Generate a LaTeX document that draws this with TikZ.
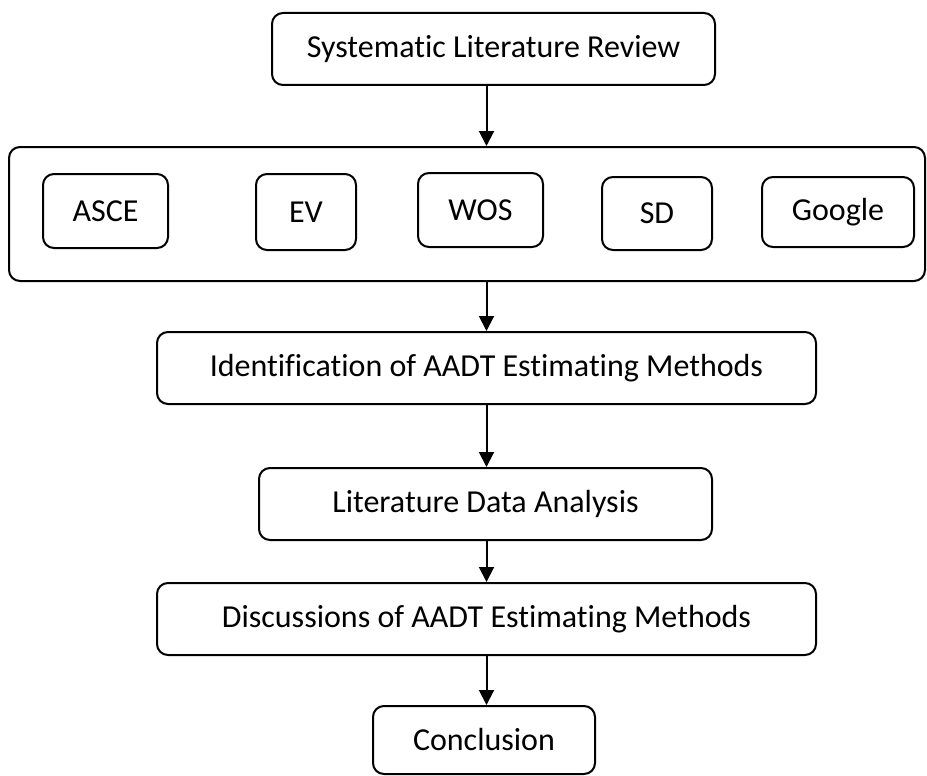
\documentclass[tikz,border=0pt]{standalone}
\usepackage{fontspec}
\setmainfont[Ligatures=NoCommon]{Carlito}
\usetikzlibrary{arrows.meta}

\begin{document}
\begin{tikzpicture}[x=1pt, y=-1pt,
                line width=2pt,
                every node/.style = {draw, rounded corners=11pt, inner sep=0pt,
                    font=\fontsize{32}{38}\selectfont},
                flow/.style = {-{Triangle[length=15pt,width=15pt]}}
            ]
            \useasboundingbox (0,0) rectangle (927,776);
            % top step and database box
            \node[minimum width=443pt, minimum height=72pt] (review) at (493.5,49) {Systematic Literature Review};
            \node[minimum width=916pt, minimum height=134pt] (container) at (467,214) {};
            \node[minimum width=125pt, minimum height=74pt] (asce) at (105.5,211) {ASCE};
            \node[minimum width=100pt, minimum height=76pt] (ev) at (306,212) {EV};
            \node[minimum width=125pt, minimum height=74pt] (wos) at (480.5,210) {WOS};
            \node[minimum width=110pt, minimum height=73pt] (sd) at (657,213.5) {SD};
            \node[minimum width=152pt, minimum height=70pt] (google) at (838,212) {Google};
            % remaining steps
            \node[minimum width=659pt, minimum height=72pt] (ident) at (486.5,368) {Identification of AADT Estimating Methods};
            \node[minimum width=453pt, minimum height=72pt] (lda) at (485.5,504) {Literature Data Analysis};
            \node[minimum width=659pt, minimum height=72pt] (disc) at (486.5,619) {Discussions of AADT Estimating Methods};
            \node[minimum width=222pt, minimum height=68pt] (concl) at (484,740) {Conclusion};
            % arrows
            \draw[flow] (review.south -| ident.north) -- (container.north -| ident.north);
            \draw[flow] (container.south -| ident.north) -- (ident.north);
            \draw[flow] (ident.south) -- (lda.north -| ident.south);
            \draw[flow] (lda.south -| ident.south) -- (disc.north);
            \draw[flow] (disc.south) -- (concl.north -| disc.south);
        \end{tikzpicture}
\end{document}
